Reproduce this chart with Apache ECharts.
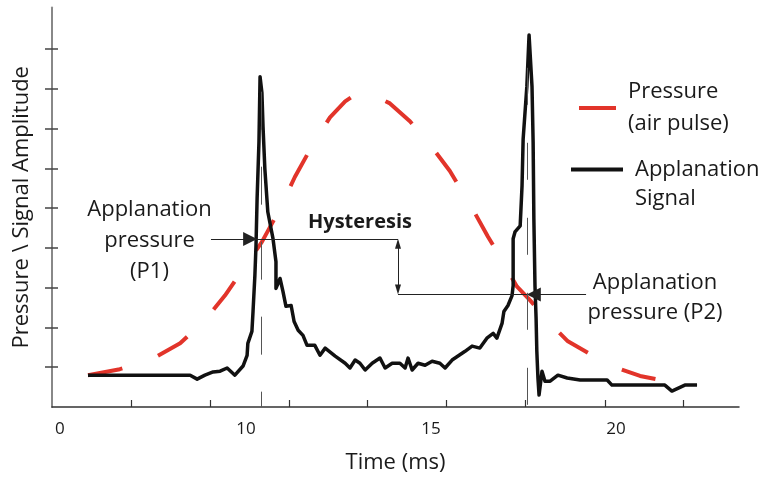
<!DOCTYPE html>
<html><head><meta charset="utf-8">
<script src="https://cdn.jsdelivr.net/npm/echarts@6/dist/echarts.min.js"></script>
<style>html,body{margin:0;padding:0;background:#fff}#c{width:765px;height:479px}</style>
</head><body><div id="c"></div>
<script>
// ---- data (time in ms, amplitude in arbitrary units) ----
const pressureTime = [5.73, 6.59, 7.41, 8.22, 8.89, 9.43, 9.97, 10.43, 10.86, 11.32, 11.78, 12.27, 12.68, 13.03, 13.41, 13.89, 14.43, 14.97, 15.51, 16.05, 16.54, 16.86, 17.32, 17.68, 18.00, 18.35, 18.70, 19.30, 19.97, 20.65, 21.46];
const pressureValue = [0.80, 0.95, 1.18, 1.60, 2.18, 2.80, 3.53, 4.15, 4.88, 5.78, 6.55, 7.28, 7.68, 7.90, 7.85, 7.63, 7.18, 6.60, 5.93, 5.10, 4.28, 3.78, 3.03, 2.68, 2.33, 1.98, 1.65, 1.33, 1.00, 0.78, 0.63];
const signalTime = [5.73, 7.41, 8.49, 8.68, 8.89, 9.11, 9.30, 9.49, 9.70, 9.92, 10.03, 10.05, 10.16, 10.19, 10.24, 10.27, 10.30, 10.35, 10.38, 10.43, 10.46, 10.51, 10.59, 10.73, 10.81, 10.81, 10.92, 11.00, 11.08, 11.22, 11.27, 11.30, 11.41, 11.54, 11.65, 11.86, 12.00, 12.14, 12.41, 12.68, 12.81, 12.95, 13.08, 13.22, 13.41, 13.62, 13.76, 13.95, 14.16, 14.30, 14.38, 14.49, 14.65, 14.84, 15.03, 15.24, 15.38, 15.57, 15.73, 15.92, 16.11, 16.32, 16.51, 16.68, 16.78, 16.92, 16.97, 17.08, 17.19, 17.22, 17.22, 17.22, 17.27, 17.41, 17.46, 17.49, 17.59, 17.65, 17.73, 17.76, 17.78, 17.81, 17.84, 17.86, 17.89, 17.92, 18.00, 18.08, 18.22, 18.43, 18.68, 19.03, 19.76, 19.89, 21.32, 21.51, 21.86, 22.19];
const signalValue = [0.80, 0.80, 0.80, 0.70, 0.80, 0.88, 0.90, 0.98, 0.80, 1.03, 1.30, 1.60, 1.90, 2.40, 3.30, 4.05, 5.23, 6.65, 8.30, 7.90, 7.05, 5.98, 4.90, 4.23, 3.65, 2.98, 3.23, 2.90, 2.53, 2.55, 2.60, 2.15, 1.93, 1.80, 1.55, 1.55, 1.30, 1.48, 1.28, 1.10, 0.98, 1.18, 1.10, 0.93, 1.10, 1.23, 0.98, 1.10, 1.10, 0.98, 1.23, 0.93, 1.10, 1.05, 1.15, 1.10, 0.98, 1.18, 1.28, 1.40, 1.53, 1.48, 1.73, 1.85, 1.73, 2.10, 2.40, 2.55, 2.80, 3.05, 3.55, 4.23, 4.40, 4.55, 5.55, 6.73, 8.05, 9.35, 8.05, 6.65, 4.73, 3.05, 2.23, 1.40, 0.73, 0.30, 0.90, 0.65, 0.65, 0.80, 0.73, 0.68, 0.68, 0.55, 0.55, 0.40, 0.55, 0.55];
const xTickTimes = [6.89, 9.03, 11.16, 13.27, 15.41, 17.54, 19.70, 21.81];
const xLabelTimes = [4.97, 10, 15, 20];
const xLabelTexts = ['0', '10', '15', '20'];
const yTickValues = [1, 2, 3, 4, 5, 6, 7, 8, 9];
const seriesNames = ['Pressure (air pulse)', 'Applanation Signal'];
const legendTexts = ['Pressure\n(air pulse)', ' \nApplanation\nSignal'];
// annotation anchors (data units)
const p1 = { time: 10.30, value: 4.225, labelStart: 9.054, markerTop: 7.925, markerTime: 10.42 };
const p2 = { time: 17.59, value: 2.825, labelEnd: 19.19, markerTop: 8.525, markerTime: 17.61 };
const hysteresisTime = 14.108;

const FONT = '"Open Sans", sans-serif';
const TXT = '#1a1a1a';
const xMin = 4.757, xMax = 23.324, yMax = 10.04;
const pxPerMs = 37, pxPerUnit = 40;

const pressureData = pressureTime.map((t, i) => [t, pressureValue[i]]);
const signalData = signalTime.map((t, i) => [t, signalValue[i]]);

const thin = { color: '#222', width: 1, type: 'solid' };
const arrowBig = 14;
const arrowBackMs = (arrowBig / 2) / pxPerMs;
const smallArrow = [6, 10];
const smallBack = 5 / pxPerUnit;

const markLines = [
  [{ coord: [p1.labelStart, p1.value], symbol: 'none' }, { coord: [hysteresisTime, p1.value], symbol: 'none' }],
  [{ coord: [p1.labelStart, p1.value], symbol: 'none' }, { coord: [p1.time - arrowBackMs, p1.value], symbol: 'triangle', symbolSize: [arrowBig, arrowBig] }],
  [{ coord: [hysteresisTime, p2.value], symbol: 'none' }, { coord: [p2.labelEnd, p2.value], symbol: 'none' }],
  [{ coord: [p2.labelEnd, p2.value], symbol: 'none' }, { coord: [p2.time + arrowBackMs, p2.value], symbol: 'triangle', symbolSize: [arrowBig, arrowBig] }],
  [{ coord: [hysteresisTime, p1.value - smallBack], symbol: 'triangle', symbolSize: smallArrow }, { coord: [hysteresisTime, p2.value + smallBack], symbol: 'triangle', symbolSize: smallArrow }],
  [{ coord: [p1.markerTime, p1.markerTop], symbol: 'none', lineStyle: { color: '#555', width: 1, type: [38, 37] } }, { coord: [p1.markerTime, 0], symbol: 'none' }],
  [{ coord: [p2.markerTime, p2.markerTop], symbol: 'none', lineStyle: { color: '#555', width: 1, type: [37, 38] } }, { coord: [p2.markerTime, 0], symbol: 'none' }]
];

const chart = echarts.init(document.getElementById('c'), null, { renderer: 'canvas' });
chart.setOption({
  animation: false,
  backgroundColor: '#fff',
  grid: { left: 52, right: 26, top: 7.5, bottom: 70, containLabel: false },
  xAxis: {
    type: 'value', min: xMin, max: xMax,
    name: 'Time (ms)', nameLocation: 'middle', nameGap: 45,
    nameTextStyle: { fontFamily: FONT, fontSize: 22, color: TXT },
    axisLine: { show: true, lineStyle: { color: '#333', width: 1.5 } },
    axisTick: { show: true, inside: true, length: 7, customValues: xTickTimes, lineStyle: { color: '#333', width: 1.2 } },
    axisLabel: { show: true, customValues: xLabelTimes, margin: 14, fontFamily: FONT, fontSize: 17, color: TXT,
      formatter: v => { let best = 0; xLabelTimes.forEach((t, i) => { if (Math.abs(t - v) < Math.abs(xLabelTimes[best] - v)) best = i; }); return xLabelTexts[best]; } },
    splitLine: { show: false }
  },
  yAxis: [{
    type: 'value', min: 0, max: yMax,
    name: 'Pressure \\ Signal Amplitude', nameLocation: 'middle', nameGap: 19, nameRotate: 90,
    nameTextStyle: { fontFamily: FONT, fontSize: 22, color: TXT },
    axisLine: { show: true, lineStyle: { color: '#888', width: 2 } },
    axisTick: { show: true, inside: false, length: 7, customValues: yTickValues, lineStyle: { color: '#444', width: 1.5 } },
    axisLabel: { show: false },
    splitLine: { show: false }
  }, {
    type: 'value', min: 0, max: yMax, position: 'left',
    axisLine: { show: false },
    axisTick: { show: true, inside: true, length: 6, customValues: yTickValues, lineStyle: { color: '#444', width: 1.5 } },
    axisLabel: { show: false },
    splitLine: { show: false }
  }],
  legend: [{
    data: [seriesNames[0]], left: 579, top: 76, padding: 0, orient: 'vertical',
    icon: 'rect', itemWidth: 37, itemHeight: 4, selectedMode: false,
    itemStyle: { borderWidth: 0 },
    formatter: () => legendTexts[0],
    textStyle: { fontFamily: FONT, fontSize: 22, lineHeight: 32, color: TXT, padding: [0, 0, 0, 7] }
  }, {
    data: [seriesNames[1]], left: 571, top: 126, padding: 0, orient: 'vertical',
    icon: 'rect', itemWidth: 52, itemHeight: 4, selectedMode: false,
    itemStyle: { borderWidth: 0 },
    formatter: () => legendTexts[1],
    textStyle: { fontFamily: FONT, fontSize: 22, lineHeight: 29, color: TXT, padding: [0, 0, 0, 7] }
  }],
  series: [{
    name: seriesNames[0], type: 'line', data: pressureData, showSymbol: false, symbol: 'none',
    color: '#e2342a',
    lineStyle: { color: '#e2342a', width: 4, type: [35, 38], cap: 'butt' },
    silent: true, z: 2
  }, {
    name: seriesNames[1], type: 'line', data: signalData, showSymbol: false, symbol: 'none',
    color: '#111',
    lineStyle: { color: '#111', width: 3.5, join: 'round' },
    silent: true, z: 3,
    markLine: {
      silent: true, animation: false, symbol: ['none', 'none'],
      label: { show: false }, lineStyle: thin,
      emphasis: { disabled: true },
      itemStyle: { color: '#111' },
      data: markLines
    }
  }],
  graphic: [
    { type: 'text', x: 149.5, y: 241, style: { text: 'Applanation\npressure\n(P1)', font: '22px ' + FONT, lineHeight: 31, fill: TXT, align: 'center', verticalAlign: 'middle' } },
    { type: 'text', x: 655, y: 298, style: { text: 'Applanation\npressure (P2)', font: '22px ' + FONT, lineHeight: 30, fill: TXT, align: 'center', verticalAlign: 'middle' } },
    { type: 'text', x: 360, y: 222, style: { text: 'Hysteresis', font: 'bold 20px ' + FONT, fill: TXT, align: 'center', verticalAlign: 'middle' } }
  ]
});
</script></body></html>
